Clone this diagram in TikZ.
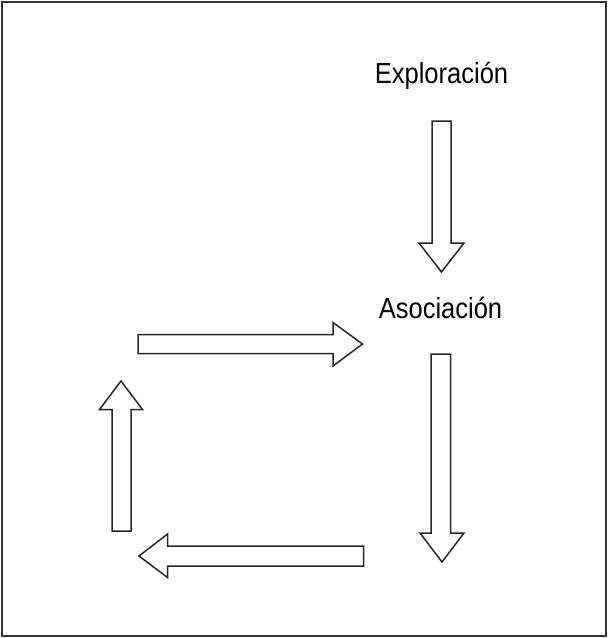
\documentclass[tikz,border=0pt]{standalone}
\usepackage{fontspec}
\setmainfont{Liberation Sans}
\tikzset{
    stagelabel/.style={inner sep=0pt,anchor=base,font=\fontsize{29}{34}\selectfont},
    blockline/.style={line width=1.5pt,draw=black!85,fill=white,line join=miter}
}
\newcommand{\narrow}[1]{\scalebox{0.88}[1]{#1}}
\begin{document}
\begin{tikzpicture}[x=1pt,y=-1pt]
        \useasboundingbox (0,0) rectangle (608,638);
        %% Frame
        \draw[line width=2pt,draw=black!80] (2,2) rectangle (605.5,635.5);
        %% Labels
        \node[stagelabel] (explo) at (441.5,83) {\narrow{Exploración}};
        \node[stagelabel] (asoc) at (440.5,318) {\narrow{Asociación}};
        %% Exploracion to Asociacion
        \draw[blockline] (432,121) -- (451,121) -- (451,243) -- (464,243) -- (441.5,272)
            -- (419,243) -- (432,243) -- cycle;
        %% Down on the right
        \draw[blockline] (431,354) -- (450.5,354) -- (450.5,533) -- (464,533) -- (442,562)
            -- (420,533) -- (431,533) -- cycle;
        %% Left at the bottom
        \draw[blockline] (363.5,546) -- (363.5,566) -- (167.5,566) -- (167.5,577.5) -- (139,556)
            -- (167.5,534) -- (167.5,546) -- cycle;
        %% Up on the left
        \draw[blockline] (112,531) -- (131,531) -- (131,409.5) -- (142.5,409.5) -- (121,381)
            -- (99.5,409.5) -- (112,409.5) -- cycle;
        %% Back to Asociacion
        \draw[blockline] (138,334.5) -- (333,334.5) -- (333,322.5) -- (362.5,344) -- (333,366)
            -- (333,353.5) -- (138,353.5) -- cycle;
    \end{tikzpicture}
\end{document}
